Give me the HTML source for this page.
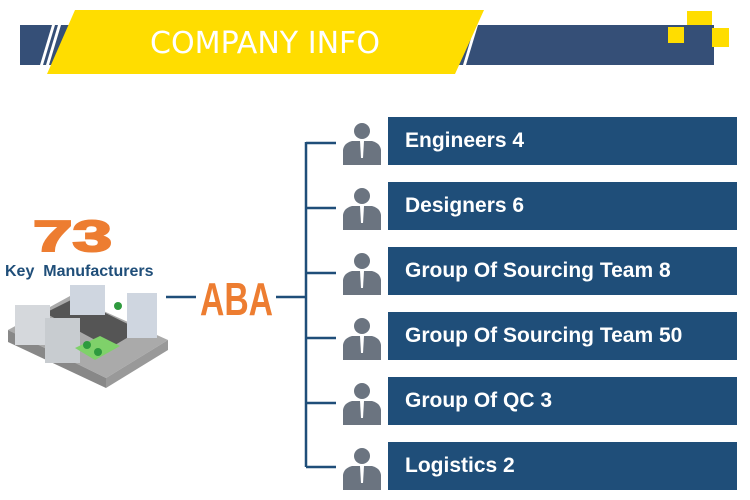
<!DOCTYPE html>
<html><head><meta charset="utf-8"><style>
body{margin:0;width:750px;height:500px;background:#fff;position:relative;overflow:hidden;font-family:"Liberation Sans",sans-serif}
.bar{position:absolute;left:388px;width:349px;height:48px;background:#1f4e79;color:#fff;font-weight:bold;font-size:21px;line-height:48px;padding-left:17px;box-sizing:border-box}
</style></head><body>
<svg width="750" height="500" style="position:absolute;left:0;top:0">
<rect x="20" y="25" width="694" height="40" fill="#354f77"/>
<polygon points="40,65 52,25 55,25 43,65" fill="#fff"/>
<polygon points="46,65 58,25 61,25 49,65" fill="#fff"/>
<polygon points="463,65 475,25 478,25 466,65" fill="#fff"/>
<polygon points="75,10 484,10 455,74 47,74" fill="#ffdd00"/>
<rect x="687" y="11" width="25" height="14" fill="#ffdd00"/>
<rect x="668" y="27" width="16" height="16" fill="#ffdd00"/>
<rect x="712" y="28" width="17" height="19" fill="#ffdd00"/>
<text x="265" y="53" text-anchor="middle" fill="#fff" font-family="DejaVu Sans" font-size="30" textLength="230" lengthAdjust="spacingAndGlyphs">COMPANY INFO</text>
<g stroke="#1f4e79" stroke-width="2.5" fill="none">
<line x1="306" y1="142" x2="306" y2="467"/>
<line x1="166" y1="297" x2="306" y2="297"/>
<line x1="306" y1="143" x2="336" y2="143"/>
<line x1="306" y1="208" x2="336" y2="208"/>
<line x1="306" y1="273" x2="336" y2="273"/>
<line x1="306" y1="338" x2="336" y2="338"/>
<line x1="306" y1="403" x2="336" y2="403"/>
<line x1="306" y1="467" x2="336" y2="467"/>
</g>
<rect x="196" y="274" width="80" height="45" fill="#fff"/>
<text x="200" y="315" fill="#ed7d31" font-family="Liberation Sans" font-weight="bold" font-size="46" textLength="73" lengthAdjust="spacingAndGlyphs">ABA</text>
<text x="33" y="251" fill="#ed7d31" font-family="Liberation Sans" font-weight="bold" font-size="44" textLength="79" lengthAdjust="spacingAndGlyphs" stroke="#ed7d31" stroke-width="2">73</text>
<text x="5" y="276" fill="#1f4e79" font-family="Liberation Sans" font-weight="bold" font-size="16" xml:space="preserve">Key  Manufacturers</text>
<g>
<polygon points="8,330 70,296 168,340 106,378" fill="#aaa"/>
<polygon points="8,330 106,378 106,388 8,342" fill="#888"/>
<polygon points="106,378 168,340 168,350 106,388" fill="#999"/>
<polygon points="45,313 75,298 140,330 110,348" fill="#555"/>
<rect x="15" y="305" width="35" height="40" fill="#d5d8dc"/>
<rect x="45" y="318" width="35" height="45" fill="#c8ccd0"/>
<rect x="70" y="285" width="35" height="30" fill="#cfd6e0"/>
<rect x="127" y="293" width="30" height="45" fill="#cfd6e0"/>
<polygon points="75,348 100,336 120,346 95,360" fill="#7fd16a"/>
<circle cx="87" cy="345" r="4" fill="#2e9a3e"/><circle cx="98" cy="352" r="4" fill="#2e9a3e"/>
<circle cx="118" cy="306" r="4" fill="#2e9a3e"/>
</g>
<g fill="#6b7480">
<g id="p"><circle cx="362" cy="131" r="8"/><path d="M343 165 L343 150 Q344 143 352 141 L372 141 Q380 143 381 150 L381 165 Z"/><path d="M360 141 L364 141 L363 158 L361 158Z" fill="#fff"/></g>
<use href="#p" y="65"/><use href="#p" y="130"/><use href="#p" y="195"/><use href="#p" y="260"/><use href="#p" y="325"/>
</g>
</svg>
<div class="bar" style="top:117px">Engineers 4</div>
<div class="bar" style="top:182px">Designers 6</div>
<div class="bar" style="top:247px">Group Of Sourcing Team 8</div>
<div class="bar" style="top:312px">Group Of Sourcing Team 50</div>
<div class="bar" style="top:377px">Group Of QC 3</div>
<div class="bar" style="top:442px">Logistics 2</div>
</body></html>
